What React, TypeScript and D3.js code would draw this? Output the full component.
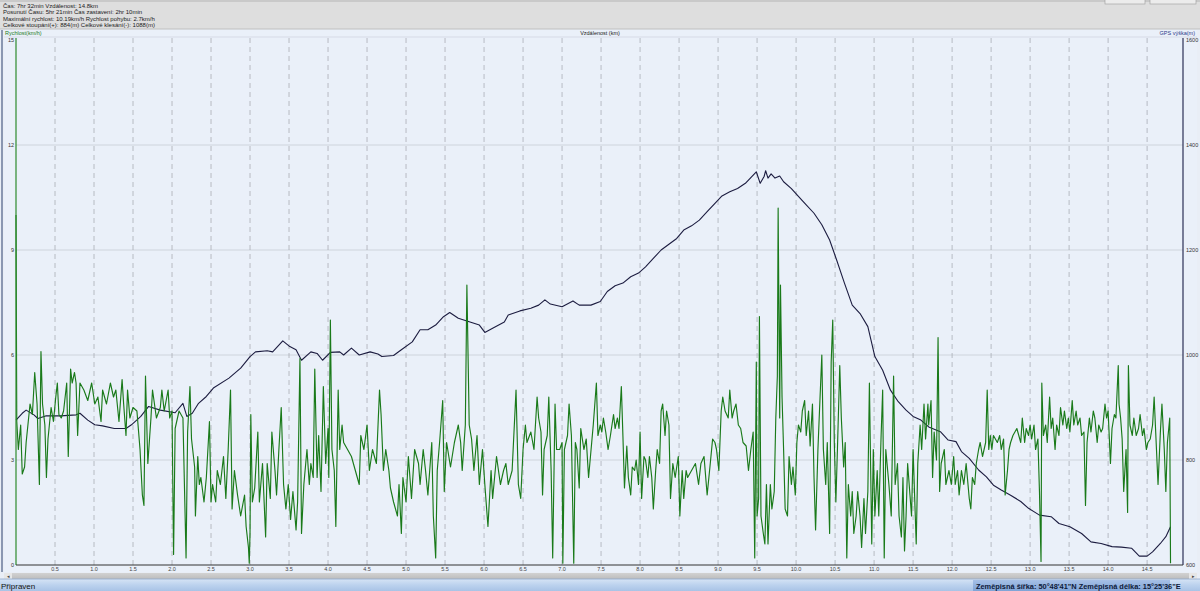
import React from "react";
import * as d3 from "d3";

// ---------- DATA ----------
const headerLines: string[] = [
  "Čas: 7hr 32min  Vzdálenost: 14.8km",
  "Posunutí Času: 5hr 21min  Čas zastavení: 2hr 10min",
  "Maximální rychlost: 10.19km/h  Rychlost pohybu: 2.7km/h",
  "Celkové stoupání(+): 884(m)  Celkové klesání(-): 1088(m)",
];
const leftAxisTitle = "Rychlost(km/h)";
const centerAxisTitle = "Vzdálenost (km)";
const rightAxisTitle = "GPS výška(m)";
const speedTicks: number[] = [0, 3, 6, 9, 12, 15];
const elevTicks: number[] = [600, 800, 1000, 1200, 1400, 1600];
const distTicks: number[] = [0.5, 1, 1.5, 2, 2.5, 3, 3.5, 4, 4.5, 5, 5.5, 6, 6.5, 7, 7.5, 8, 8.5, 9, 9.5, 10, 10.5, 11, 11.5, 12, 12.5, 13, 13.5, 14, 14.5];
const statusLeft = "Připraven";
const statusRight = "Zeměpisná šířka: 50°48'41\"N  Zeměpisná délka: 15°25'36\"E";

// elevation profile [km, m]
const elevationTrack: [number, number][] = [
  [0.0, 876], [0.08, 889], [0.13, 895], [0.23, 886], [0.28, 879], [0.38, 884], [0.57, 884], [0.77, 886], [0.82, 889],
  [0.92, 876], [1.01, 867], [1.11, 865], [1.26, 860], [1.41, 860], [1.48, 867], [1.6, 883], [1.7, 902], [1.85, 895],
  [2.04, 890], [2.14, 908], [2.19, 883], [2.26, 889], [2.34, 908], [2.44, 921], [2.53, 937], [2.73, 956], [2.88, 975],
  [3.0, 997], [3.07, 1006], [3.22, 1008], [3.29, 1006], [3.42, 1027], [3.51, 1016], [3.59, 1010], [3.66, 990],
  [3.78, 1006], [3.86, 1003], [3.93, 990], [4.03, 1005], [4.15, 1006], [4.2, 1000], [4.3, 1013], [4.4, 1000],
  [4.54, 1006], [4.64, 1002], [4.69, 997], [4.84, 999], [4.94, 1010], [5.08, 1025], [5.18, 1048], [5.28, 1048],
  [5.38, 1057], [5.48, 1073], [5.56, 1081], [5.67, 1070], [5.82, 1063], [5.94, 1057], [6.01, 1043], [6.11, 1051],
  [6.26, 1063], [6.31, 1076], [6.46, 1084], [6.6, 1089], [6.7, 1095], [6.78, 1105], [6.85, 1097], [7.0, 1092],
  [7.14, 1103], [7.22, 1095], [7.37, 1095], [7.49, 1102], [7.58, 1121], [7.68, 1132], [7.78, 1137], [7.88, 1149],
  [7.98, 1156], [8.07, 1168], [8.17, 1184], [8.27, 1200], [8.37, 1211], [8.47, 1222], [8.56, 1238], [8.66, 1246],
  [8.76, 1257], [8.86, 1273], [8.96, 1289], [9.05, 1303], [9.15, 1311], [9.25, 1317], [9.35, 1327], [9.42, 1338],
  [9.49, 1349], [9.54, 1327], [9.59, 1340], [9.61, 1351], [9.64, 1337], [9.68, 1345], [9.73, 1337], [9.79, 1341],
  [9.84, 1330], [9.94, 1317], [10.03, 1302], [10.13, 1286], [10.23, 1270], [10.33, 1248], [10.43, 1219],
  [10.52, 1181], [10.62, 1137], [10.72, 1095], [10.82, 1079], [10.92, 1054], [11.01, 997], [11.11, 971],
  [11.21, 933], [11.31, 911], [11.41, 895], [11.5, 883], [11.6, 876], [11.7, 863], [11.85, 854], [11.95, 838],
  [12.05, 835], [12.12, 816], [12.22, 803], [12.34, 781], [12.44, 768], [12.53, 752], [12.63, 743], [12.75, 733],
  [12.88, 721], [12.98, 708], [13.12, 695], [13.27, 692], [13.37, 679], [13.51, 673], [13.66, 660], [13.78, 644],
  [13.91, 641], [14.05, 635], [14.17, 634], [14.3, 632], [14.4, 617], [14.5, 617], [14.57, 625], [14.67, 641],
  [14.74, 654], [14.8, 673],
];

// speed samples [km, km/h]
const speedTrack: [number, number][] = [
  [0.0, 10.0], [0.01, 4.1], [0.03, 3.3], [0.06, 4.0], [0.08, 2.6], [0.11, 2.8], [0.13, 3.5], [0.18, 4.6], [0.21, 4.3],
  [0.24, 5.5], [0.27, 4.6], [0.3, 2.3], [0.32, 6.1], [0.34, 4.6], [0.37, 4.0], [0.39, 2.5], [0.41, 3.6], [0.45, 4.5],
  [0.48, 4.1], [0.51, 4.8], [0.53, 5.2], [0.55, 4.3], [0.58, 4.2], [0.61, 4.4], [0.65, 5.2], [0.67, 3.1], [0.7, 5.6],
  [0.72, 5.2], [0.75, 5.5], [0.77, 5.2], [0.79, 3.7], [0.82, 5.2], [0.87, 5.0], [0.92, 4.7], [0.97, 5.2], [1.01, 4.6],
  [1.05, 4.8], [1.09, 4.1], [1.11, 5.0], [1.16, 4.6], [1.21, 5.2], [1.25, 4.8], [1.28, 5.0], [1.32, 4.1], [1.36, 5.3],
  [1.38, 4.6], [1.41, 3.7], [1.43, 5.0], [1.46, 4.2], [1.5, 4.5], [1.55, 4.4], [1.59, 3.3], [1.62, 2.0], [1.64, 1.7],
  [1.66, 5.4], [1.69, 2.9], [1.73, 4.2], [1.75, 5.0], [1.8, 4.2], [1.85, 4.5], [1.87, 5.0], [1.9, 4.4], [1.95, 5.0],
  [1.97, 4.2], [2.0, 4.4], [2.02, 0.3], [2.04, 3.9], [2.09, 4.4], [2.14, 4.2], [2.18, 0.2], [2.2, 3.8], [2.23, 5.1],
  [2.25, 3.6], [2.29, 2.8], [2.3, 1.4], [2.33, 3.1], [2.35, 2.3], [2.37, 2.5], [2.41, 1.8], [2.44, 2.5], [2.48, 4.1],
  [2.5, 1.8], [2.52, 2.3], [2.56, 1.8], [2.58, 2.7], [2.62, 2.3], [2.66, 3.1], [2.69, 1.9], [2.72, 3.3], [2.75, 5.0],
  [2.77, 1.6], [2.8, 2.7], [2.84, 2.0], [2.88, 1.4], [2.93, 2.0], [2.95, 1.1], [2.98, 0.5], [2.99, 0.05], [3.0, 0.9],
  [3.01, 4.3], [3.03, 1.8], [3.06, 2.2], [3.1, 3.8], [3.12, 1.8], [3.16, 2.9], [3.2, 0.8], [3.22, 2.9], [3.26, 1.9],
  [3.28, 3.8], [3.32, 2.7], [3.34, 2.0], [3.37, 3.3], [3.4, 4.5], [3.43, 2.3], [3.46, 1.6], [3.49, 2.3], [3.52, 1.3],
  [3.55, 2.1], [3.59, 1.0], [3.61, 1.8], [3.64, 5.9], [3.66, 0.9], [3.69, 2.3], [3.73, 3.3], [3.76, 2.3], [3.78, 2.9],
  [3.81, 2.5], [3.83, 5.6], [3.86, 2.5], [3.88, 3.7], [3.91, 2.1], [3.94, 5.1], [3.97, 2.9], [4.0, 3.9], [4.01, 2.5],
  [4.03, 7.0], [4.05, 3.3], [4.08, 2.7], [4.1, 1.1], [4.13, 5.0], [4.15, 3.3], [4.18, 4.0], [4.2, 3.5], [4.25, 3.3],
  [4.3, 3.1], [4.35, 2.7], [4.4, 2.3], [4.42, 3.7], [4.46, 3.3], [4.5, 4.0], [4.53, 2.7], [4.57, 3.3], [4.62, 2.9],
  [4.66, 5.0], [4.68, 4.3], [4.71, 2.7], [4.74, 3.3], [4.78, 2.7], [4.8, 2.2], [4.84, 1.8], [4.89, 1.4], [4.91, 2.3],
  [4.94, 0.9], [4.96, 2.5], [5.0, 1.8], [5.03, 3.1], [5.07, 1.9], [5.11, 3.3], [5.16, 2.9], [5.18, 2.3], [5.22, 3.3],
  [5.25, 2.7], [5.28, 2.0], [5.33, 3.5], [5.35, 1.4], [5.38, 0.2], [5.4, 2.7], [5.43, 3.5], [5.47, 4.7], [5.49, 2.1],
  [5.52, 3.5], [5.57, 2.8], [5.62, 3.5], [5.67, 4.0], [5.7, 3.5], [5.72, 2.7], [5.76, 4.0], [5.78, 8.0], [5.81, 4.0],
  [5.84, 3.6], [5.87, 2.7], [5.91, 3.7], [5.94, 2.3], [5.98, 3.3], [6.01, 2.3], [6.05, 1.1], [6.09, 2.7], [6.11, 1.9],
  [6.16, 3.1], [6.21, 2.3], [6.25, 2.7], [6.28, 2.9], [6.31, 2.3], [6.36, 2.7], [6.41, 5.0], [6.44, 2.3], [6.47, 1.9],
  [6.5, 3.3], [6.53, 4.0], [6.55, 3.5], [6.6, 3.8], [6.64, 3.3], [6.68, 4.8], [6.7, 4.2], [6.73, 3.8], [6.75, 2.0],
  [6.77, 3.3], [6.81, 3.7], [6.83, 4.8], [6.86, 2.7], [6.88, 0.2], [6.91, 4.6], [6.93, 3.3], [6.97, 3.3], [7.0, 3.5],
  [7.01, 0.05], [7.03, 3.3], [7.07, 3.7], [7.09, 4.6], [7.12, 3.7], [7.15, 0.05], [7.17, 3.5], [7.19, 3.3], [7.22, 2.2],
  [7.24, 3.9], [7.28, 3.3], [7.31, 3.6], [7.34, 2.5], [7.38, 3.5], [7.4, 4.0], [7.44, 5.2], [7.46, 3.7], [7.49, 4.0],
  [7.51, 3.8], [7.53, 4.2], [7.56, 3.8], [7.59, 3.3], [7.62, 3.7], [7.66, 4.3], [7.68, 3.9], [7.71, 4.2], [7.73, 3.9],
  [7.76, 5.1], [7.78, 3.7], [7.8, 2.2], [7.83, 3.4], [7.85, 2.5], [7.88, 2.0], [7.9, 2.8], [7.93, 2.7], [7.95, 3.0],
  [7.98, 2.3], [8.0, 3.8], [8.02, 1.9], [8.05, 3.1], [8.07, 3.0], [8.1, 2.5], [8.12, 3.1], [8.15, 2.5], [8.17, 1.6],
  [8.2, 2.7], [8.22, 3.3], [8.25, 2.9], [8.27, 4.4], [8.29, 4.6], [8.32, 3.7], [8.34, 4.4], [8.37, 4.0], [8.39, 1.9],
  [8.42, 2.9], [8.45, 2.5], [8.49, 3.1], [8.51, 1.4], [8.54, 2.7], [8.56, 1.9], [8.59, 2.7], [8.61, 2.5], [8.66, 2.7],
  [8.71, 2.9], [8.75, 2.3], [8.78, 2.9], [8.82, 3.1], [8.86, 2.0], [8.9, 2.9], [8.93, 3.6], [8.96, 3.5], [8.98, 3.3],
  [9.01, 2.7], [9.04, 4.4], [9.06, 4.8], [9.09, 4.4], [9.13, 4.2], [9.15, 5.0], [9.18, 4.2], [9.2, 4.4], [9.23, 4.6],
  [9.26, 4.0], [9.29, 3.9], [9.32, 3.5], [9.36, 3.4], [9.39, 2.7], [9.42, 3.3], [9.45, 3.8], [9.47, 0.2], [9.49, 5.8],
  [9.5, 1.4], [9.52, 1.9], [9.53, 7.1], [9.55, 1.4], [9.58, 0.9], [9.6, 0.6], [9.62, 2.3], [9.64, 0.6], [9.67, 2.3],
  [9.69, 1.6], [9.72, 2.1], [9.74, 4.2], [9.76, 5.4], [9.77, 10.2], [9.79, 4.2], [9.8, 8.0], [9.82, 4.8], [9.84, 3.3],
  [9.86, 1.6], [9.89, 1.4], [9.91, 3.1], [9.94, 2.3], [9.96, 2.8], [9.99, 2.0], [10.01, 3.5], [10.03, 4.0], [10.06, 3.8],
  [10.08, 4.4], [10.11, 4.7], [10.13, 3.7], [10.16, 4.4], [10.18, 3.4], [10.21, 4.6], [10.23, 2.5], [10.25, 1.0],
  [10.28, 3.3], [10.3, 4.4], [10.33, 6.0], [10.35, 3.3], [10.38, 2.3], [10.4, 3.5], [10.43, 0.9], [10.45, 5.8],
  [10.47, 7.0], [10.49, 3.5], [10.51, 1.8], [10.53, 3.3], [10.56, 5.7], [10.58, 4.2], [10.61, 2.8], [10.63, 3.5],
  [10.65, 0.2], [10.67, 2.3], [10.7, 1.4], [10.72, 2.1], [10.74, 0.9], [10.77, 1.4], [10.79, 2.1], [10.82, 1.4],
  [10.84, 0.5], [10.87, 1.9], [10.89, 0.9], [10.92, 2.1], [10.94, 5.2], [10.97, 0.6], [10.99, 3.3], [11.01, 1.4],
  [11.04, 2.7], [11.06, 1.4], [11.09, 3.7], [11.11, 5.0], [11.13, 0.2], [11.15, 3.3], [11.19, 2.3], [11.22, 1.4],
  [11.25, 5.4], [11.27, 2.3], [11.3, 2.9], [11.32, 1.4], [11.35, 0.8], [11.37, 2.5], [11.39, 0.4], [11.41, 1.4],
  [11.43, 2.9], [11.46, 2.0], [11.48, 1.4], [11.5, 3.3], [11.54, 0.6], [11.56, 2.9], [11.59, 4.0], [11.61, 3.3],
  [11.64, 4.6], [11.66, 3.6], [11.69, 4.6], [11.7, 4.0], [11.73, 4.7], [11.75, 2.5], [11.77, 3.8], [11.8, 3.0],
  [11.82, 6.5], [11.84, 2.1], [11.86, 2.9], [11.9, 3.3], [11.92, 2.3], [11.96, 2.7], [11.99, 2.3], [12.02, 3.1],
  [12.04, 2.3], [12.07, 2.7], [12.09, 2.0], [12.12, 2.7], [12.15, 2.3], [12.18, 2.9], [12.22, 1.9], [12.24, 1.6],
  [12.26, 2.5], [12.29, 2.3], [12.31, 2.9], [12.34, 3.3], [12.36, 3.5], [12.39, 3.1], [12.43, 3.5], [12.45, 5.0],
  [12.47, 3.3], [12.49, 3.7], [12.51, 3.3], [12.53, 3.7], [12.58, 3.5], [12.61, 3.7], [12.63, 3.3], [12.66, 3.6],
  [12.68, 2.0], [12.71, 2.7], [12.73, 3.3], [12.75, 3.5], [12.78, 3.7], [12.83, 3.9], [12.88, 3.5], [12.9, 4.2],
  [12.93, 3.5], [12.95, 3.9], [12.98, 3.7], [13.0, 4.0], [13.02, 3.6], [13.05, 4.0], [13.07, 3.3], [13.1, 3.6],
  [13.12, 2.1], [13.14, 0.1], [13.15, 5.2], [13.17, 3.7], [13.2, 4.0], [13.22, 3.5], [13.25, 4.8], [13.27, 3.9],
  [13.29, 4.2], [13.32, 3.3], [13.34, 4.0], [13.37, 3.7], [13.39, 4.5], [13.42, 4.0], [13.44, 4.4], [13.47, 3.9],
  [13.49, 4.2], [13.51, 3.8], [13.54, 4.7], [13.56, 4.0], [13.59, 4.4], [13.61, 4.0], [13.64, 4.2], [13.66, 3.7],
  [13.69, 3.8], [13.71, 1.7], [13.73, 3.5], [13.76, 4.2], [13.78, 3.8], [13.81, 4.4], [13.83, 4.2], [13.86, 3.5],
  [13.88, 4.0], [13.91, 3.8], [13.93, 3.9], [13.96, 4.6], [13.98, 4.2], [14.0, 4.4], [14.03, 2.9], [14.05, 3.9],
  [14.08, 4.3], [14.1, 4.2], [14.13, 5.7], [14.14, 4.6], [14.16, 4.2], [14.18, 3.6], [14.2, 2.1], [14.23, 3.3],
  [14.25, 1.5], [14.26, 5.7], [14.28, 4.0], [14.31, 3.7], [14.33, 4.2], [14.36, 3.7], [14.39, 3.9], [14.41, 4.3],
  [14.44, 3.7], [14.46, 3.9], [14.49, 3.3], [14.51, 3.5], [14.54, 3.6], [14.57, 4.0], [14.59, 4.8], [14.62, 3.3],
  [14.64, 2.3], [14.67, 3.8], [14.69, 4.6], [14.72, 3.3], [14.74, 2.1], [14.76, 3.5], [14.79, 4.2], [14.8, 0.05],
];

// ---------- CHART ----------
const W = 1200;
const H = 591;
const PL = 16;
const PR = 1183;
const PT = 40;
const PB = 565;

export default function App() {
  const x = d3.scaleLinear().domain([0, 14.96]).range([PL, PR]);
  const yS = d3.scaleLinear().domain([0, 15]).range([PB, PT]);
  const yE = d3.scaleLinear().domain([600, 1600]).range([PB, PT]);

  const speedPath = d3
    .line<[number, number]>()
    .x((d) => x(d[0]))
    .y((d) => yS(d[1]))(speedTrack) as string;
  const elevPath = d3
    .line<[number, number]>()
    .x((d) => x(d[0]))
    .y((d) => yE(d[1]))(elevationTrack) as string;

  const font = "'Liberation Sans', Arial, sans-serif";

  return (
    <svg
      width={W}
      height={H}
      viewBox={`0 0 ${W} ${H}`}
      style={{ position: "absolute", left: 0, top: 0, display: "block" }}
      fontFamily={font}
    >
      <defs>
        <linearGradient id="status" x1="0" y1="0" x2="0" y2="1">
          <stop offset="0" stopColor="#d6e4f5" />
          <stop offset="0.5" stopColor="#bcd2ee" />
          <stop offset="1" stopColor="#a9c3e6" />
        </linearGradient>
        <linearGradient id="statusR" x1="0" y1="0" x2="0" y2="1">
          <stop offset="0" stopColor="#a6c0e6" />
          <stop offset="1" stopColor="#7fa3d6" />
        </linearGradient>
        <linearGradient id="scroll" x1="0" y1="0" x2="0" y2="1">
          <stop offset="0" stopColor="#d2d2d2" />
          <stop offset="1" stopColor="#bdbdbd" />
        </linearGradient>
      </defs>

      {/* page background */}
      <rect x={0} y={0} width={W} height={H} fill="#e9eef6" />

      {/* header panel */}
      <rect x={0} y={0} width={W} height={29} fill="#dedede" />
      <rect x={0} y={0} width={W} height={2} fill="#c9c9c9" />
      <rect x={1105} y={-2} width={40} height={6} fill="#ececec" stroke="#9a9a9a" strokeWidth={0.6} />
      <rect x={1150} y={-2} width={46} height={6} fill="#ececec" stroke="#9a9a9a" strokeWidth={0.6} />
      {headerLines.map((t, i) => (
        <text key={t} x={3} y={8 + i * 6.3} fontSize={6} fill="#1a1a1a" fontWeight={500}>
          {t}
        </text>
      ))}
      <line x1={0} x2={W} y1={29} y2={29} stroke="#b8b8b8" strokeWidth={0.8} />

      {/* plot background */}
      <rect x={4} y={30} width={1193} height={542} fill="#eaf0f9" />
      <line x1={2} x2={2} y1={30} y2={572} stroke="#6a7a9a" strokeWidth={1.5} />

      {/* axis titles */}
      <text x={5} y={35} fontSize={5.5} fill="#1e7d1e">
        {leftAxisTitle}
      </text>
      <text x={600} y={35} fontSize={5.5} fill="#222" textAnchor="middle">
        {centerAxisTitle}
      </text>
      <text x={1195} y={35} fontSize={5.5} fill="#2a3a8a" textAnchor="end">
        {rightAxisTitle}
      </text>
      <line x1={4} x2={1197} y1={37} y2={37} stroke="#c9ced8" strokeWidth={0.6} />

      {/* horizontal gridlines */}
      {speedTicks
        .filter((t) => t > 0 && t < 15)
        .map((t) => (
          <line key={"h" + t} x1={PL} x2={PR} y1={yS(t)} y2={yS(t)} stroke="#c8cdd6" strokeWidth={0.8} />
        ))}

      {/* vertical dashed gridlines */}
      {distTicks.map((t) => (
        <line
          key={"v" + t}
          x1={x(t)}
          x2={x(t)}
          y1={38}
          y2={PB}
          stroke="#a9adb5"
          strokeWidth={0.8}
          strokeDasharray="5,4"
        />
      ))}

      {/* elevation line */}
      <path d={elevPath} fill="none" stroke="#1c1c40" strokeWidth={1.1} strokeLinejoin="round" />

      {/* speed line */}
      <path d={speedPath} fill="none" stroke="#1a7a1a" strokeWidth={1.15} strokeLinejoin="round" />

      {/* axes */}
      <line x1={PL} x2={PL} y1={38} y2={PB} stroke="#2c8a2c" strokeWidth={1.2} />
      <line x1={PR} x2={PR} y1={38} y2={PB} stroke="#2a2f55" strokeWidth={1.2} />
      <line x1={PL} x2={PR} y1={PB} y2={PB} stroke="#333" strokeWidth={1} />

      {speedTicks.map((t) => (
        <text key={"ls" + t} x={PL - 2} y={yS(t) + 2} fontSize={5.5} fill="#333" textAnchor="end">
          {t}
        </text>
      ))}
      {elevTicks.map((t) => (
        <text key={"re" + t} x={PR + 3} y={yE(t) + 2} fontSize={5.5} fill="#333">
          {t}
        </text>
      ))}
      {distTicks.map((t) => (
        <text key={"bx" + t} x={x(t)} y={571} fontSize={5.5} fill="#444" textAnchor="middle">
          {t.toFixed(1)}
        </text>
      ))}

      {/* scrollbar */}
      <rect x={4} y={573} width={1193} height={6} fill="url(#scroll)" />
      <rect x={4} y={573} width={8} height={6} fill="#e6e6e6" />
      <rect x={1189} y={573} width={8} height={6} fill="#e6e6e6" />
      <text x={8} y={578} fontSize={5} fill="#444" textAnchor="middle">◂</text>
      <text x={1193} y={578} fontSize={5} fill="#444" textAnchor="middle">▸</text>

      {/* status bar */}
      <rect x={0} y={579} width={W} height={12} fill="url(#status)" />
      <line x1={0} x2={W} y1={579} y2={579} stroke="#8fa8cc" strokeWidth={0.8} />
      <text x={1} y={588.5} fontSize={8} fill="#111">
        {statusLeft}
      </text>
      <rect x={973} y={580} width={197} height={11} fill="url(#statusR)" />
      <text x={976} y={588.5} fontSize={7.4} fill="#0d1a3a" fontWeight="bold">
        {statusRight}
      </text>
    </svg>
  );
}
